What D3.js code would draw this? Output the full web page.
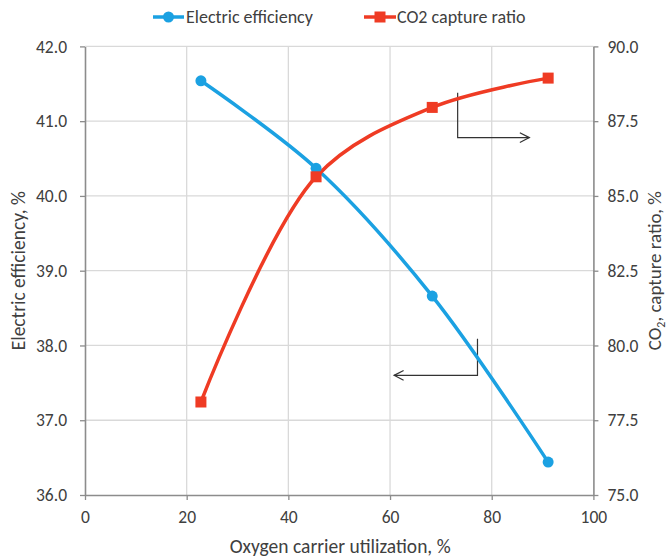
<!DOCTYPE html>
<html>
<head>
<meta charset="utf-8">
<script src="https://cdn.jsdelivr.net/npm/d3@7"></script>
<style>
  html, body { margin: 0; padding: 0; background: #fff; }
  svg { display: block; }
  text { font-family: Carlito, Lato, "Liberation Sans", sans-serif; fill: #404040; }
</style>
</head>
<body>
<svg id="chart" width="668" height="560"></svg>
<script>
// ---- data ----
const utilization = [22.8, 45.45, 68.3, 91.1];
const electricEfficiency = [41.54, 40.37, 38.66, 36.44];
const co2Capture = [78.11, 85.64, 87.96, 88.94];
const xTicks = [0, 20, 40, 60, 80, 100];
const leftTicks = [36, 37, 38, 39, 40, 41, 42];
const rightTicks = [75, 77.5, 80, 82.5, 85, 87.5, 90];
const seriesNames = ["Electric efficiency", "CO2 capture ratio"];
// annotation arrows (data units): [x, y] path points, arrow at last point
const arrowRight = [[73.3, 88.45], [73.3, 86.95], [87.4, 86.95]];   // right-axis units
const arrowLeft = [[77.2, 38.09], [77.2, 37.60], [60.8, 37.60]];    // left-axis units

const W = 668, H = 560;
const margin = { left: 85, right: 74.6, top: 46.4, bottom: 65 };
const svg = d3.select("#chart");

const x = d3.scaleLinear().domain([0, 100]).range([margin.left, W - margin.right]);
const yL = d3.scaleLinear().domain([36, 42]).range([H - margin.bottom, margin.top]);
const yR = d3.scaleLinear().domain([75, 90]).range([H - margin.bottom, margin.top]);

const blue = "#1BA1E2", red = "#EF3B24";
const gridColor = "#d9d9d9", axisColor = "#8c8c8c";

// gridlines
svg.append("g").selectAll("line.h").data(leftTicks.slice(1)).join("line")
  .attr("x1", x(0)).attr("x2", x(100))
  .attr("y1", d => yL(d)).attr("y2", d => yL(d))
  .attr("stroke", gridColor).attr("stroke-width", 1.3);
svg.append("g").selectAll("line.v").data(xTicks.slice(1, -1)).join("line")
  .attr("y1", yL(36)).attr("y2", yL(42))
  .attr("x1", d => x(d)).attr("x2", d => x(d))
  .attr("stroke", gridColor).attr("stroke-width", 1.3);

// axes
function styleAxis(g) {
  g.select(".domain").attr("stroke", axisColor).attr("stroke-width", 1.6);
  g.selectAll(".tick line").attr("stroke", axisColor).attr("stroke-width", 1.3);
  g.selectAll(".tick text").attr("fill", "#404040").style("font-size", "17.5px")
    .style("font-family", "Carlito, Lato, 'Liberation Sans', sans-serif");
}
svg.append("g").attr("transform", `translate(0,${yL(36)})`)
  .call(d3.axisBottom(x).tickValues(xTicks).tickSize(5).tickSizeOuter(0).tickPadding(11).tickFormat(d3.format("d")))
  .call(styleAxis);
svg.append("g").attr("transform", `translate(${x(0)},0)`)
  .call(d3.axisLeft(yL).tickValues(leftTicks).tickSize(5).tickSizeOuter(0).tickPadding(13).tickFormat(d3.format(".1f")))
  .call(styleAxis);
svg.append("g").attr("transform", `translate(${x(100)},0)`)
  .call(d3.axisRight(yR).tickValues(rightTicks).tickSize(5).tickSizeOuter(0).tickPadding(9).tickFormat(d3.format(".1f")))
  .call(styleAxis);

// axis titles
svg.append("text").attr("x", (x(0) + x(100)) / 2 + 1).attr("y", 553)
  .attr("text-anchor", "middle").style("font-size", "19.5px")
  .text("Oxygen carrier utilization, %");
svg.append("text").attr("transform", `translate(25,${(yL(36) + yL(42)) / 2}) rotate(-90)`)
  .attr("text-anchor", "middle").style("font-size", "19.5px")
  .text("Electric efficiency, %");
const rt = svg.append("text").attr("transform", `translate(661,${(yL(36) + yL(42)) / 2}) rotate(-90)`)
  .attr("text-anchor", "middle").style("font-size", "19px");
rt.append("tspan").text("CO");
rt.append("tspan").attr("dy", 4).style("font-size", "12px").text("2");
rt.append("tspan").attr("dy", -4).text(", capture ratio, %");

// annotations
const annoLine = d3.line();
function arrow(points, ys) {
  const pts = points.map(p => [x(p[0]), ys(p[1])]);
  svg.append("path").attr("d", annoLine(pts)).attr("fill", "none")
    .attr("stroke", "#333").attr("stroke-width", 1.2);
  const [a, b] = [pts[pts.length - 2], pts[pts.length - 1]];
  const dir = Math.sign(b[0] - a[0]);
  svg.append("path").attr("d", annoLine([[b[0] - dir * 9.5, b[1] - 4.8], b, [b[0] - dir * 9.5, b[1] + 4.8]]))
    .attr("fill", "none").attr("stroke", "#333").attr("stroke-width", 1.2);
}
arrow(arrowRight, yR);
arrow(arrowLeft, yL);

// series
const curve = d3.curveCatmullRom.alpha(0.5);
const blueLine = d3.line().curve(curve).x((d, i) => x(utilization[i])).y(d => yL(d));
const redLine = d3.line().curve(curve).x((d, i) => x(utilization[i])).y(d => yR(d));

svg.append("path").datum(electricEfficiency).attr("d", blueLine)
  .attr("fill", "none").attr("stroke", blue).attr("stroke-width", 3.5);
svg.append("path").datum(co2Capture).attr("d", redLine)
  .attr("fill", "none").attr("stroke", red).attr("stroke-width", 3.5);

svg.append("g").selectAll("circle").data(electricEfficiency).join("circle")
  .attr("cx", (d, i) => x(utilization[i])).attr("cy", d => yL(d)).attr("r", 5.5).attr("fill", blue);
svg.append("g").selectAll("rect").data(co2Capture).join("rect")
  .attr("x", (d, i) => x(utilization[i]) - 5.5).attr("y", d => yR(d) - 5.5)
  .attr("width", 11).attr("height", 11).attr("fill", red);

// legend
const lg = svg.append("g");
const ly = 17;
lg.append("line").attr("x1", 153).attr("x2", 184).attr("y1", ly).attr("y2", ly).attr("stroke", blue).attr("stroke-width", 3.5);
lg.append("circle").attr("cx", 168.5).attr("cy", ly).attr("r", 5.5).attr("fill", blue);
lg.append("text").attr("x", 186).attr("y", ly).attr("dy", "0.35em").style("font-size", "18px").text(seriesNames[0]);
lg.append("line").attr("x1", 364).attr("x2", 396).attr("y1", ly).attr("y2", ly).attr("stroke", red).attr("stroke-width", 3.5);
lg.append("rect").attr("x", 374.5).attr("y", ly - 5.5).attr("width", 11).attr("height", 11).attr("fill", red);
lg.append("text").attr("x", 397).attr("y", ly).attr("dy", "0.35em").style("font-size", "18px").text(seriesNames[1]);
</script>
</body>
</html>
